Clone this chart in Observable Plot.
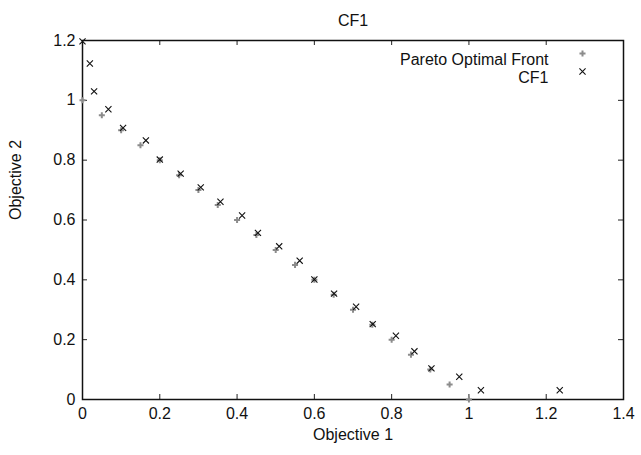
<!DOCTYPE html>
<html>
<head>
<meta charset="utf-8">
<script src="https://cdn.jsdelivr.net/npm/d3@7"></script>
<script src="https://cdn.jsdelivr.net/npm/@observablehq/plot@0.6"></script>
<style>
  html, body { margin: 0; padding: 0; background: #fff; }
  svg { font-family: "Liberation Sans", Arial, Helvetica, sans-serif; }
</style>
</head>
<body>
<div id="chart"></div>
<script>
// Pareto optimal front
const paretoX = [0, 0.05, 0.1, 0.15, 0.2, 0.25, 0.3, 0.35, 0.4, 0.45, 0.5, 0.55, 0.6, 0.65, 0.7, 0.75, 0.8, 0.85, 0.9, 0.95, 1.0];
const paretoY = [1.0, 0.95, 0.9, 0.85, 0.8, 0.75, 0.7, 0.65, 0.6, 0.55, 0.5, 0.45, 0.4, 0.35, 0.3, 0.25, 0.2, 0.15, 0.1, 0.05, 0.0];
// CF1 obtained solutions
const cf1X = [0.0, 0.019, 0.030, 0.067, 0.105, 0.164, 0.200, 0.254, 0.306, 0.357, 0.413, 0.454, 0.509, 0.562, 0.600, 0.651, 0.708, 0.751, 0.811, 0.859, 0.903, 0.975, 1.031, 1.235];
const cf1Y = [1.197, 1.123, 1.030, 0.970, 0.908, 0.866, 0.802, 0.755, 0.709, 0.661, 0.615, 0.557, 0.512, 0.464, 0.401, 0.354, 0.310, 0.252, 0.213, 0.161, 0.104, 0.076, 0.031, 0.031];
const xTicks = [0, 0.2, 0.4, 0.6, 0.8, 1, 1.2, 1.4];
const yTicks = [0, 0.2, 0.4, 0.6, 0.8, 1, 1.2];
const legendLabels = ["Pareto Optimal Front", "CF1"];
const titleText = "CF1";
const xLabel = "Objective 1";
const yLabel = "Objective 2";

const pareto = paretoX.map((x, i) => ({x, y: paretoY[i]}));
const cf1 = cf1X.map((x, i) => ({x, y: cf1Y[i]}));

const W = 641, H = 455;
const mL = 82, mR = 18, mT = 40, mB = 56;
const innerH = H - mT - mB, innerW = W - mL - mR;
const tickLen = 5;
const fs = 16;
const fmt = d => String(d);

const chart = Plot.plot({
  width: W, height: H,
  marginLeft: mL, marginRight: mR, marginTop: mT, marginBottom: mB,
  style: {fontSize: fs + "px", fontFamily: '"Liberation Sans", Arial, Helvetica, sans-serif', background: "#fff", color: "#111"},
  x: {domain: [0, 1.4], label: null},
  y: {domain: [0, 1.2], label: null},
  marks: [
    Plot.axisX({ticks: xTicks, tickSize: 0, tickPadding: 8, tickFormat: fmt, fontSize: fs, fill: "#111"}),
    Plot.axisY({ticks: yTicks, tickSize: 0, tickPadding: 7, tickFormat: fmt, fontSize: fs, fill: "#111"}),
    // inward ticks on all four sides
    Plot.tickX(xTicks, {x: d => d, insetTop: innerH - tickLen, stroke: "#222", strokeWidth: 1}),
    Plot.tickX(xTicks, {x: d => d, insetBottom: innerH - tickLen, stroke: "#222", strokeWidth: 1}),
    Plot.tickY(yTicks, {y: d => d, insetRight: innerW - tickLen, stroke: "#222", strokeWidth: 1}),
    Plot.tickY(yTicks, {y: d => d, insetLeft: innerW - tickLen, stroke: "#222", strokeWidth: 1}),
    Plot.frame({stroke: "#111", strokeWidth: 1.5}),
    Plot.dot(pareto, {x: "x", y: "y", symbol: "plus", r: 2.1, stroke: "#8c8c8c", strokeWidth: 2}),
    Plot.dot(cf1, {x: "x", y: "y", symbol: "times", r: 2.9, stroke: "#111", strokeWidth: 1.1}),
    // legend
    Plot.text([legendLabels[0]], {frameAnchor: "top-right", text: d => d, dx: -75, dy: 13, textAnchor: "end", fontSize: fs, fill: "#111"}),
    Plot.text([legendLabels[1]], {frameAnchor: "top-right", text: d => d, dx: -75, dy: 31, textAnchor: "end", fontSize: fs, fill: "#111"}),
    Plot.dot([legendLabels[0]], {frameAnchor: "top-right", dx: -41, dy: 13, symbol: "plus", r: 2.1, stroke: "#8c8c8c", strokeWidth: 2}),
    Plot.dot([legendLabels[1]], {frameAnchor: "top-right", dx: -41, dy: 31, symbol: "times", r: 2.9, stroke: "#111", strokeWidth: 1.1}),
    // title and axis labels
    Plot.text([titleText], {frameAnchor: "top", text: d => d, dy: -26, fontSize: fs, fill: "#111"}),
    Plot.text([xLabel], {frameAnchor: "bottom", text: d => d, dy: 40, fontSize: fs, fill: "#111"}),
    Plot.text([yLabel], {frameAnchor: "left", text: d => d, dx: -67, rotate: -90, fontSize: fs, fill: "#111"})
  ]
});
document.getElementById("chart").appendChild(chart);
</script>
</body>
</html>
